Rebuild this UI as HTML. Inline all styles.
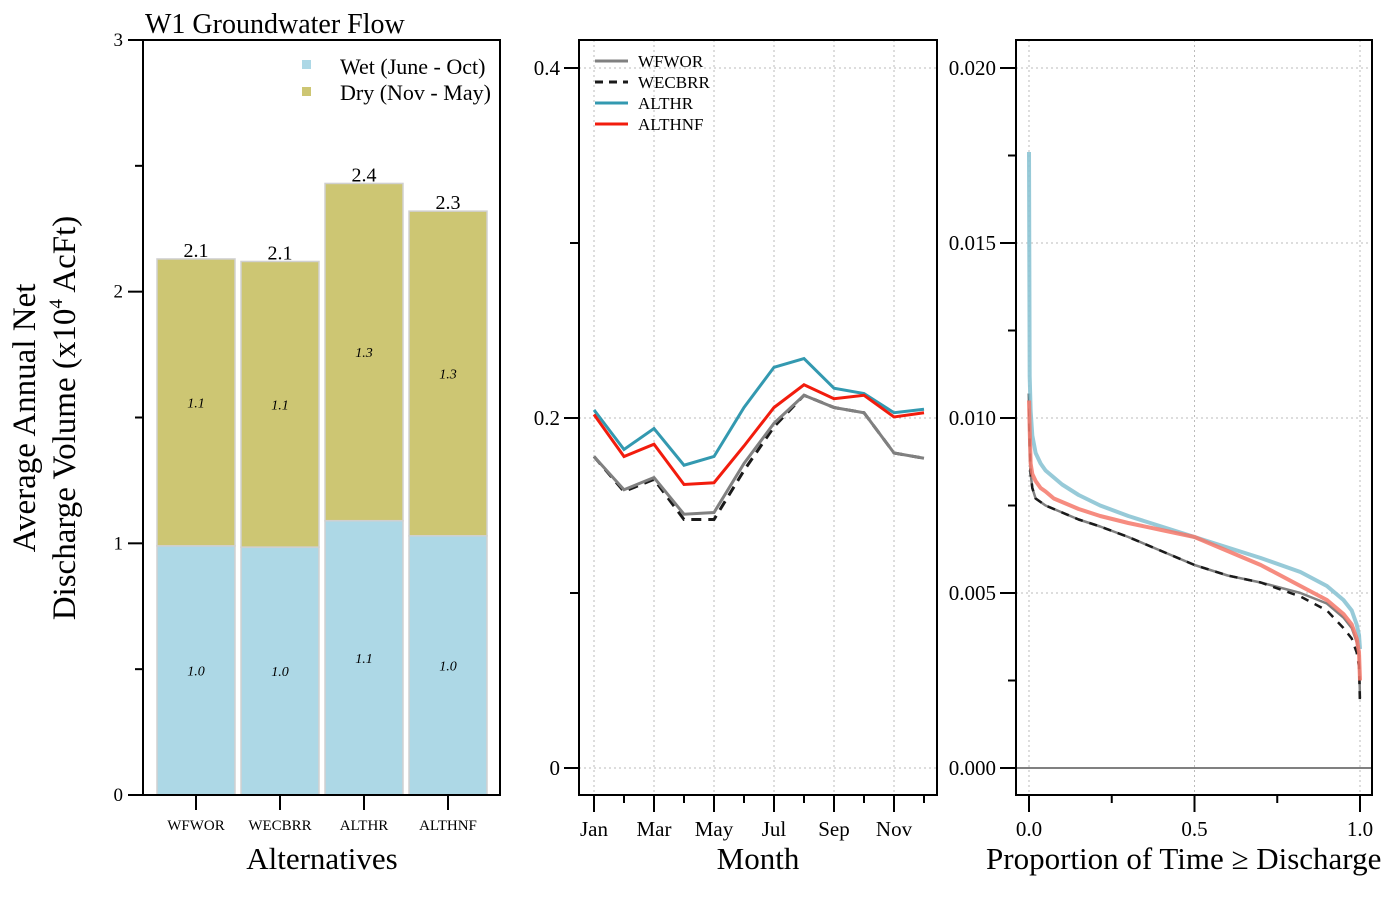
<!DOCTYPE html>
<html><head><meta charset="utf-8"><style>
html,body{margin:0;padding:0;background:#fff;}
svg{display:block;font-family:"Liberation Serif",serif;}
</style></head><body>
<svg id="chart" width="1400" height="900" xmlns="http://www.w3.org/2000/svg"></svg>
<script>
// ---- Panel 1 data ----
const alternatives = ["WFWOR","WECBRR","ALTHR","ALTHNF"];
const wetValues = [0.99, 0.985, 1.09, 1.03];
const dryValues = [1.14, 1.135, 1.34, 1.29];
const wetLabels = ["1.0","1.0","1.1","1.0"];
const dryLabels = ["1.1","1.1","1.3","1.3"];
const totalLabels = ["2.1","2.1","2.4","2.3"];
const barTicks = [0,1,2,3];
// ---- Panel 2 data ----
const months = ["Jan","Feb","Mar","Apr","May","Jun","Jul","Aug","Sep","Oct","Nov","Dec"];
const monthLabels = ["Jan","","Mar","","May","","Jul","","Sep","","Nov",""];
const wfwor  = [0.178,0.159,0.166,0.145,0.146,0.174,0.197,0.213,0.206,0.203,0.180,0.177];
const wecbrr = [0.178,0.158,0.165,0.142,0.142,0.170,0.195,0.213,0.206,0.203,0.180,0.177];
const althr  = [0.2046,0.182,0.194,0.173,0.178,0.206,0.229,0.234,0.217,0.214,0.203,0.205];
const althnf = [0.202,0.178,0.185,0.162,0.163,0.184,0.206,0.219,0.211,0.213,0.2006,0.203];
const monthTicks = [0,0.2,0.4];
// ---- Panel 3 data ----
const propT = [0,0.002,0.005,0.01,0.02,0.035,0.05,0.075,0.1,0.15,0.215,0.3,0.4,0.5,0.6,0.7,0.82,0.9,0.95,0.975,0.99,0.997,1];
const durAlthr  = [0.0176,0.0112,0.0102,0.0095,0.0090,0.0087,0.0085,0.0083,0.0081,0.0078,0.0075,0.0072,0.0069,0.0066,0.0063,0.0060,0.0056,0.0052,0.0048,0.0045,0.0041,0.0038,0.0034];
const durAlthnf = [0.0105,0.0097,0.0087,0.0084,0.0082,0.0080,0.0079,0.0077,0.0076,0.0074,0.0072,0.0070,0.0068,0.0066,0.0062,0.0058,0.0052,0.0048,0.0044,0.0041,0.0037,0.0033,0.0025];
const durWfwor  = [0.0107,0.0092,0.0084,0.0080,0.0077,0.0076,0.0075,0.0074,0.0073,0.0071,0.0069,0.0066,0.0062,0.0058,0.0055,0.0053,0.0050,0.0047,0.0043,0.0040,0.0036,0.0032,0.0020];
const durWecbrr = [0.0107,0.0092,0.0084,0.0080,0.0077,0.0076,0.0075,0.0074,0.0073,0.0071,0.0069,0.0066,0.0062,0.0058,0.0055,0.0053,0.0049,0.0045,0.0040,0.0037,0.0033,0.0029,0.0018];
const durTicks = [0,0.005,0.010,0.015,0.020];
const propTicks = [0,0.5,1];

const svg = document.getElementById('chart');
const NS = "http://www.w3.org/2000/svg";
function mk(tag, attrs, parent, text){
  const e = document.createElementNS(NS, tag);
  for (const k in attrs) e.setAttribute(k, attrs[k]);
  if (text !== undefined) e.textContent = text;
  (parent || svg).appendChild(e);
  return e;
}
function grp(name){ const g = mk('g',{});   return g; }

// ===== Panel 1 =====
const p1 = grp('bar-panel');
const yB = v => 795 - v*251.67;
const xB = i => 196 + i*84;
mk('text',{x:145,y:33,'font-size':28},p1,'W1 Groundwater Flow');
alternatives.forEach((a,i)=>{
  const cx = xB(i);
  const wr = mk('rect',{x:cx-39,y:yB(wetValues[i]),width:78,height:yB(0)-yB(wetValues[i]),fill:'#add8e6',stroke:'#d0d0d0','stroke-width':1.5},p1);
  
  
  const tot = wetValues[i]+dryValues[i];
  const dr = mk('rect',{x:cx-39,y:yB(tot),width:78,height:yB(wetValues[i])-yB(tot),fill:'#cdc673',stroke:'#d0d0d0','stroke-width':1.5},p1);
  
  
  mk('text',{x:cx,y:(yB(0)+yB(wetValues[i]))/2+5,'font-size':14,'font-style':'italic','text-anchor':'middle'},p1,wetLabels[i]);
  mk('text',{x:cx,y:(yB(wetValues[i])+yB(tot))/2+5,'font-size':14,'font-style':'italic','text-anchor':'middle'},p1,dryLabels[i]);
  mk('text',{x:cx,y:yB(tot)-2,'font-size':20,'text-anchor':'middle'},p1,totalLabels[i]);
  mk('line',{x1:cx,x2:cx,y1:795,y2:810,stroke:'#000','stroke-width':2},p1);
  mk('text',{x:cx,y:830,'font-size':15,'text-anchor':'middle'},p1,a);
});
mk('rect',{x:143,y:40,width:357,height:755,fill:'none',stroke:'#000','stroke-width':2},p1);
barTicks.forEach(t=>{
  mk('line',{x1:128,x2:143,y1:yB(t),y2:yB(t),stroke:'#000','stroke-width':2},p1);
  mk('text',{x:123,y:yB(t)+6,'font-size':19,'text-anchor':'end'},p1,String(t));
  if (t<3) mk('line',{x1:135,x2:143,y1:yB(t+0.5),y2:yB(t+0.5),stroke:'#000','stroke-width':2},p1);
});
mk('rect',{x:302,y:60,width:9,height:9,fill:'#add8e6'},p1);
mk('rect',{x:302,y:87,width:9,height:9,fill:'#cdc673'},p1);
mk('text',{x:340,y:74,'font-size':22},p1,'Wet (June - Oct)');
mk('text',{x:340,y:100,'font-size':22},p1,'Dry (Nov - May)');
mk('text',{x:322,y:869,'font-size':31,'text-anchor':'middle'},p1,'Alternatives');
const yl = mk('text',{transform:'translate(35,418) rotate(-90)','font-size':33,'text-anchor':'middle'},p1);

mk('tspan',{x:0,y:0},yl,'Average Annual Net');
mk('tspan',{x:0,y:40},yl,'Discharge Volume (x10');
mk('tspan',{dy:-13,'font-size':19},yl,'4');
mk('tspan',{dy:13},yl,' AcFt)');

// ===== Panel 2 =====
const p2 = grp('monthly-panel');
const xM = i => 594 + i*30;
const yM = v => 768 - v*1750;
[0,2,4,6,8,10].forEach(i=>mk('line',{x1:xM(i),x2:xM(i),y1:40,y2:795,stroke:'#bbb','stroke-dasharray':'2,3'},p2));
monthTicks.forEach(t=>mk('line',{x1:579,x2:937,y1:yM(t),y2:yM(t),stroke:'#bbb','stroke-dasharray':'2,3'},p2));
function series(arr,color,dash,name,w){
  const d = arr.map((v,i)=>(i?'L':'M')+xM(i)+','+yM(v)).join(' ');
  const p = mk('path',{d:d,fill:'none',stroke:color,'stroke-width':w||3,'stroke-dasharray':dash||'none'},p2);
  
  
}
series(wecbrr,'#1a1a1a','10,7','wecbrr');
series(wfwor,'#808080',null,'wfwor');
series(althr,'#3399b0',null,'althr');
series(althnf,'#f21c0d',null,'althnf');
mk('rect',{x:579,y:40,width:358,height:755,fill:'none',stroke:'#000','stroke-width':2},p2);
monthTicks.forEach(t=>{
  mk('line',{x1:564,x2:579,y1:yM(t),y2:yM(t),stroke:'#000','stroke-width':2},p2);
  mk('text',{x:560,y:yM(t)+7,'font-size':21,'text-anchor':'end'},p2,String(t));
});
[0.1,0.3].forEach(t=>mk('line',{x1:570,x2:579,y1:yM(t),y2:yM(t),stroke:'#000','stroke-width':2},p2));
months.forEach((m,i)=>{
  const major = monthLabels[i]!=="";
  mk('line',{x1:xM(i),x2:xM(i),y1:795,y2:major?812:803,stroke:'#000','stroke-width':2},p2);
  if (major) mk('text',{x:xM(i),y:836,'font-size':21,'text-anchor':'middle'},p2,monthLabels[i]);
});
mk('text',{x:758,y:869,'font-size':31,'text-anchor':'middle'},p2,'Month');
const legItems=[['WFWOR','#808080',null],['WECBRR','#1a1a1a','8,6'],['ALTHR','#3399b0',null],['ALTHNF','#f21c0d',null]];
legItems.forEach((l,i)=>{
  const y=61+i*21;
  mk('line',{x1:595,x2:628,y1:y,y2:y,stroke:l[1],'stroke-width':3,'stroke-dasharray':l[2]||'none'},p2);
  mk('text',{x:638,y:y+6,'font-size':17},p2,l[0]);
});

// ===== Panel 3 =====
const p3 = grp('duration-panel');
const xD = p => 1029 + p*331;
const yD = v => 768 - v*35000;
propTicks.forEach(t=>mk('line',{x1:xD(t),x2:xD(t),y1:40,y2:795,stroke:'#bbb','stroke-dasharray':'2,3'},p3));
durTicks.slice(1).forEach(t=>mk('line',{x1:1016,x2:1372,y1:yD(t),y2:yD(t),stroke:'#bbb','stroke-dasharray':'2,3'},p3));
mk('line',{x1:1016,x2:1372,y1:yD(0),y2:yD(0),stroke:'#000','stroke-width':1},p3);
function dcurve(arr,color,dash,name,w,op){
  const d = arr.map((v,i)=>(i?'L':'M')+xD(propT[i]).toFixed(2)+','+yD(v).toFixed(2)).join(' ');
  const p = mk('path',{d:d,fill:'none',stroke:color,'stroke-width':w,'stroke-dasharray':dash||'none','stroke-linejoin':'round',opacity:op||1},p3);
  
  
}
dcurve(durWfwor,'#808080',null,'wfwor',2.5);
dcurve(durWecbrr,'#1a1a1a','8,7','wecbrr',2.5);
dcurve(durAlthr,'#8cc4d4',null,'althr',4,0.9);
dcurve(durAlthnf,'#f5786a',null,'althnf',4,0.85);
mk('rect',{x:1016,y:40,width:356,height:755,fill:'none',stroke:'#000','stroke-width':2},p3);
durTicks.forEach(t=>{
  mk('line',{x1:1000,x2:1016,y1:yD(t),y2:yD(t),stroke:'#000','stroke-width':2},p3);
  mk('text',{x:996,y:yD(t)+7,'font-size':21,'text-anchor':'end'},p3,t.toFixed(3));
});
[0.0025,0.0075,0.0125,0.0175].forEach(t=>mk('line',{x1:1008,x2:1016,y1:yD(t),y2:yD(t),stroke:'#000','stroke-width':2},p3));
[0,0.25,0.5,0.75,1].forEach(t=>mk('line',{x1:xD(t),x2:xD(t),y1:795,y2:t%0.5===0?812:803,stroke:'#000','stroke-width':2},p3));
propTicks.forEach(t=>mk('text',{x:xD(t),y:836,'font-size':21,'text-anchor':'middle'},p3,t.toFixed(1)));
mk('text',{x:986,y:869,'font-size':31},p3,'Proportion of Time \u2265 Discharge');
</script>
</body></html>
